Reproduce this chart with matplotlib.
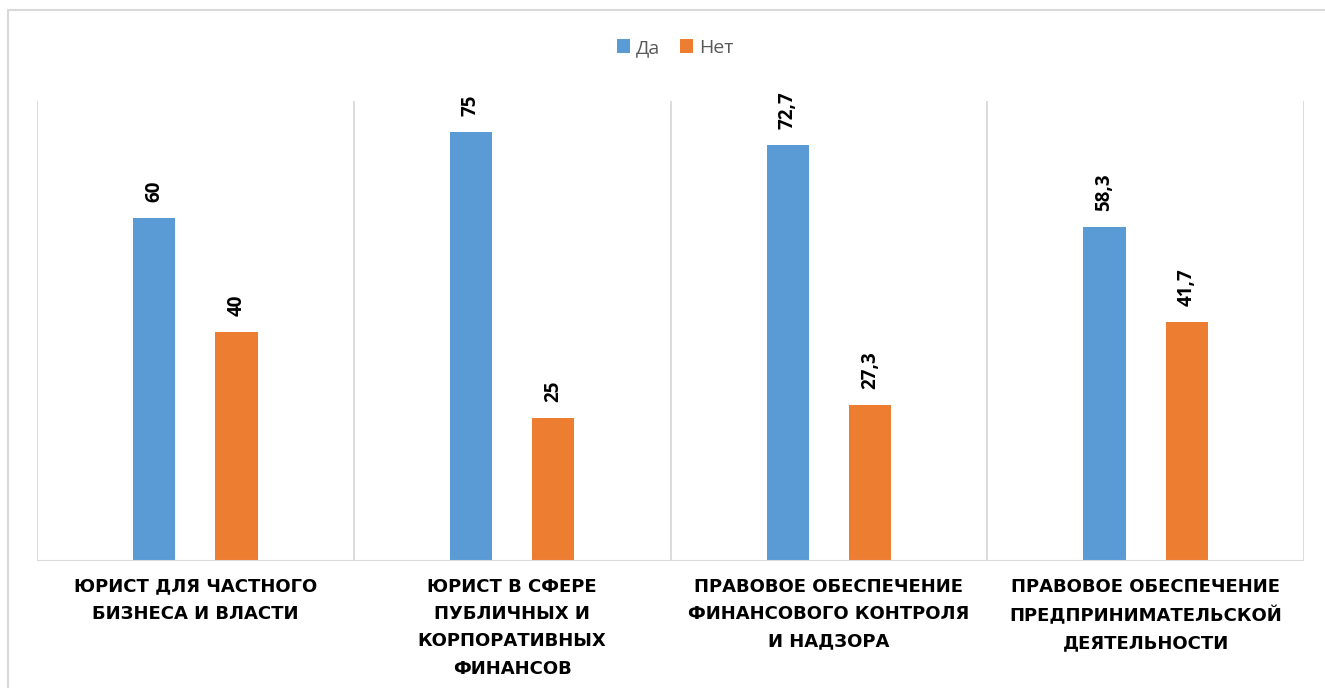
import matplotlib
matplotlib.use("Agg")
import matplotlib.pyplot as plt
import numpy as np
from matplotlib.patches import Rectangle

categories = [
    "ЮРИСТ ДЛЯ ЧАСТНОГО\nБИЗНЕСА И ВЛАСТИ",
    "ЮРИСТ В СФЕРЕ\nПУБЛИЧНЫХ И\nКОРПОРАТИВНЫХ\nФИНАНСОВ",
    "ПРАВОВОЕ ОБЕСПЕЧЕНИЕ\nФИНАНСОВОГО КОНТРОЛЯ\nИ НАДЗОРА",
    "ПРАВОВОЕ ОБЕСПЕЧЕНИЕ\nПРЕДПРИНИМАТЕЛЬСКОЙ\nДЕЯТЕЛЬНОСТИ",
]
series_names = ["Да", "Нет"]
da_values = [60, 75, 72.7, 58.3]
net_values = [40, 25, 27.3, 41.7]
value_labels = [["60", "75", "72,7", "58,3"], ["40", "25", "27,3", "41,7"]]

colors = ["#5b9bd5", "#ed7d31"]
grid_color = "#d9d9d9"

W, H = 1325, 688
fig = plt.figure(figsize=(W / 100, H / 100), dpi=100)
fig.patch.set_facecolor("white")

# outer chart frame
fig.patches.append(Rectangle((8 / W, -0.05), 1.0, 1 - 10 / H + 0.05,
                             transform=fig.transFigure, fill=False,
                             edgecolor=grid_color, linewidth=1.5))

left, right = 37 / W, 1304 / W
bottom, top = 1 - 561 / H, 1 - 100.5 / H
ax = fig.add_axes([left, bottom, right - left, top - bottom])

x = np.arange(len(categories))
offset = 0.13
width = 0.133
for i, (vals, name) in enumerate(zip([da_values, net_values], series_names)):
    pos = x + (-offset if i == 0 else offset)
    bars = ax.bar(pos, vals, width=width, color=colors[i], label=name, zorder=3)
    for b, lab in zip(bars, value_labels[i]):
        ax.text(b.get_x() + b.get_width() / 2, b.get_height() + 2.8, lab,
                rotation=90, ha="center", va="bottom", fontsize=13.5,
                fontweight="bold", family="Open Sans", color="#000000")

ax.set_xlim(-0.5, len(categories) - 0.5)
ax.set_ylim(0, 80.5)
for b in np.arange(-0.5, len(categories), 1.0):
    ax.axvline(b, color=grid_color, linewidth=1.3, zorder=1)
for s in ax.spines.values():
    s.set_visible(False)
ax.axhline(0, color=grid_color, linewidth=1.5, zorder=4)
ax.set_yticks([])
ax.set_xticks(x)
ax.set_xticklabels(categories, fontsize=13, fontweight="bold",
                   family="DejaVu Sans", linespacing=1.67, color="#000000")
ax.tick_params(axis="x", length=0, pad=12)

leg = fig.legend(loc="center", bbox_to_anchor=(675 / W, 1 - 48 / H), ncol=2,
                 frameon=False, prop={"family": "Open Sans", "size": 14},
                 handlelength=0.7, handleheight=0.7, handletextpad=0.3,
                 columnspacing=1.0)
for t in leg.get_texts():
    t.set_color("#595959")

fig.savefig("out.png", dpi=100, facecolor="white")
